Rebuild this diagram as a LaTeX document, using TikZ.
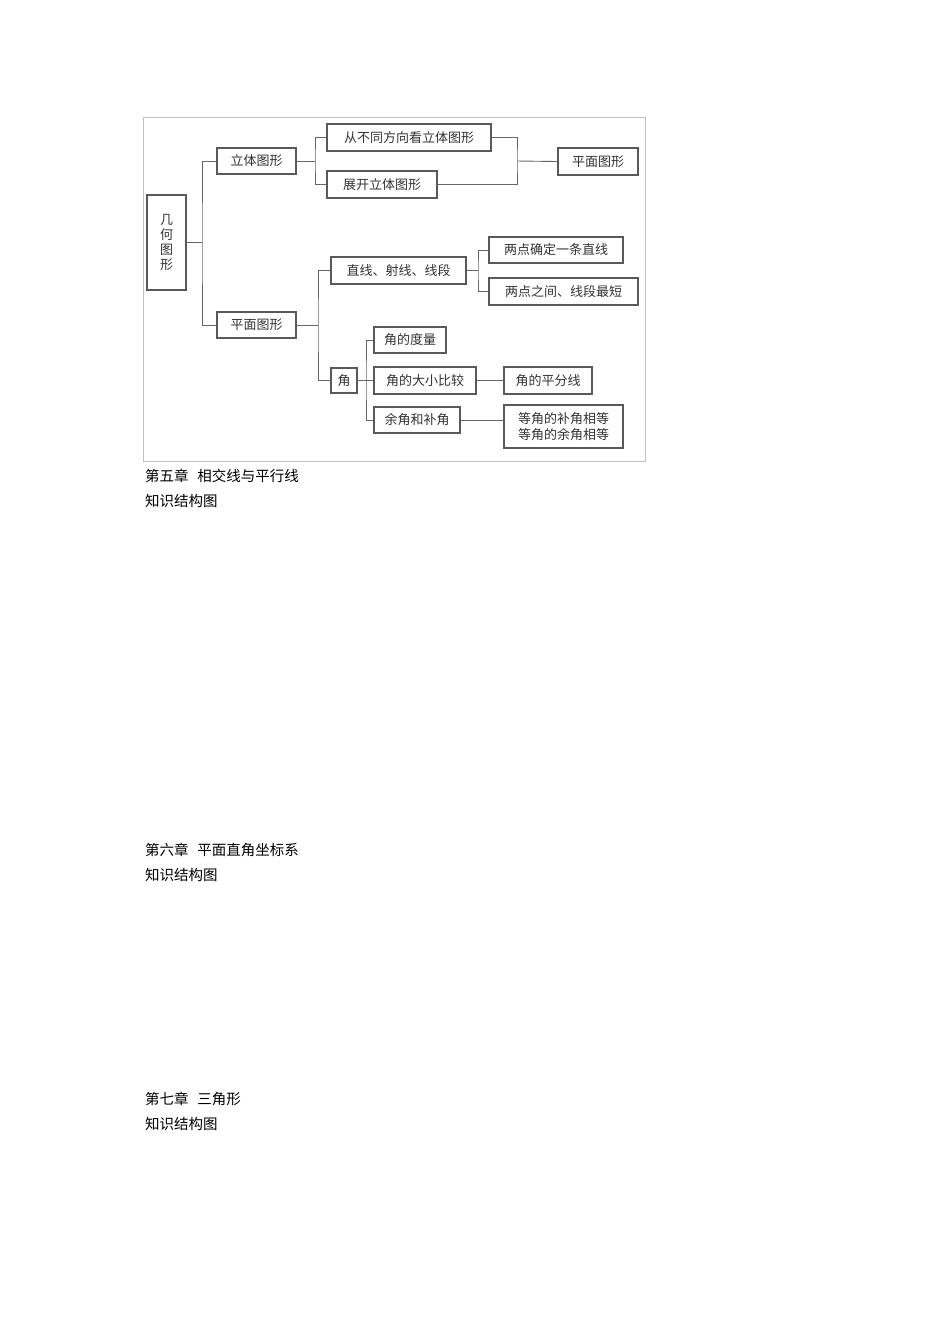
\documentclass[tikz,border=0pt]{standalone}
\usepackage{fontspec}
\newfontfamily\cjk{Noto Sans CJK SC}
\begin{document}
\begin{tikzpicture}[x=1pt,y=-1pt,
  bx/.style={draw=black!65,line width=1.1pt,fill=white,inner sep=0pt,font=\cjk\fontsize{13}{15}\selectfont,text=black!80},
  ln/.style={draw=black!60,line width=0.9pt},
  tx/.style={anchor=west,font=\cjk\fontsize{14.5}{16}\selectfont,inner sep=0pt}]
\useasboundingbox[fill=white] (0,0) rectangle (950,1344);
\draw[black!25,line width=0.8pt] (143,117) rectangle (645,461);
\newcommand{\bxat}[6]{\node[bx,minimum width=#4-#2,minimum height=#5-#3] (#1) at ({(#2+#4)/2},{(#3+#5)/2}) {#6};}
\bxat{root}{147}{195}{186}{290}{\shortstack{几\\何\\图\\形}}
\bxat{lt}{217}{148}{296}{174}{立体图形}
\bxat{pm}{217}{312}{296}{338}{平面图形}
\bxat{cbt}{327}{124}{491}{151}{从不同方向看立体图形}
\bxat{zk}{327}{171}{437}{198}{展开立体图形}
\bxat{pm2}{558}{148}{638}{175}{平面图形}
\bxat{zx}{331}{257}{466}{284}{直线、射线、线段}
\bxat{ld1}{489}{237}{623}{263}{两点确定一条直线}
\bxat{ld2}{489}{278}{638}{305}{两点之间、线段最短}
\bxat{jiao}{331}{368}{357}{393}{角}
\bxat{j1}{374}{327}{446}{353}{角的度量}
\bxat{j2}{374}{367}{476}{394}{角的大小比较}
\bxat{j2b}{504}{367}{592}{394}{角的平分线}
\bxat{j3}{374}{407}{460}{433}{余角和补角}
\bxat{j3b}{504}{405}{623}{448}{\shortstack{等角的补角相等\\等角的余角相等}}
% connectors
\draw[ln] (root.east) -- (202,242|-root.east);
\draw[ln] (lt.west) -| (202,242) |- (pm.west);
\draw[ln] (lt.east) -- (315,161);
\draw[ln] (cbt.west) -| (315,161) |- (zk.west);
\draw[ln] (cbt.east) -| (517,161) |- (zk.east);
\draw[ln] (517,161) -- (pm2.west);
\draw[ln] (pm.east) -- (318,325);
\draw[ln] (zx.west) -| (318,325) |- (jiao.west);
\draw[ln] (zx.east) -- (478,270.5);
\draw[ln] (ld1.west) -| (478,270.5) |- (ld2.west);
\draw[ln] (jiao.east) -- (366,380.5);
\draw[ln] (j1.west) -| (366,380.5) |- (j3.west);
\draw[ln] (366,380.5) -- (j2.west);
\draw[ln] (j2.east) -- (j2b.west);
\draw[ln] (j3.east) -- (j3b.west|-j3.east);
% texts
\node[tx] (t1) at (145,476) {第五章\hspace{0.6em}相交线与平行线};
\node[tx] (t2) at (145,501) {知识结构图};
\node[tx] (t3) at (145,850) {第六章\hspace{0.6em}平面直角坐标系};
\node[tx] (t4) at (145,875) {知识结构图};
\node[tx] (t5) at (145,1099) {第七章\hspace{0.6em}三角形};
\node[tx] (t6) at (145,1124) {知识结构图};
\end{tikzpicture}
\end{document}
